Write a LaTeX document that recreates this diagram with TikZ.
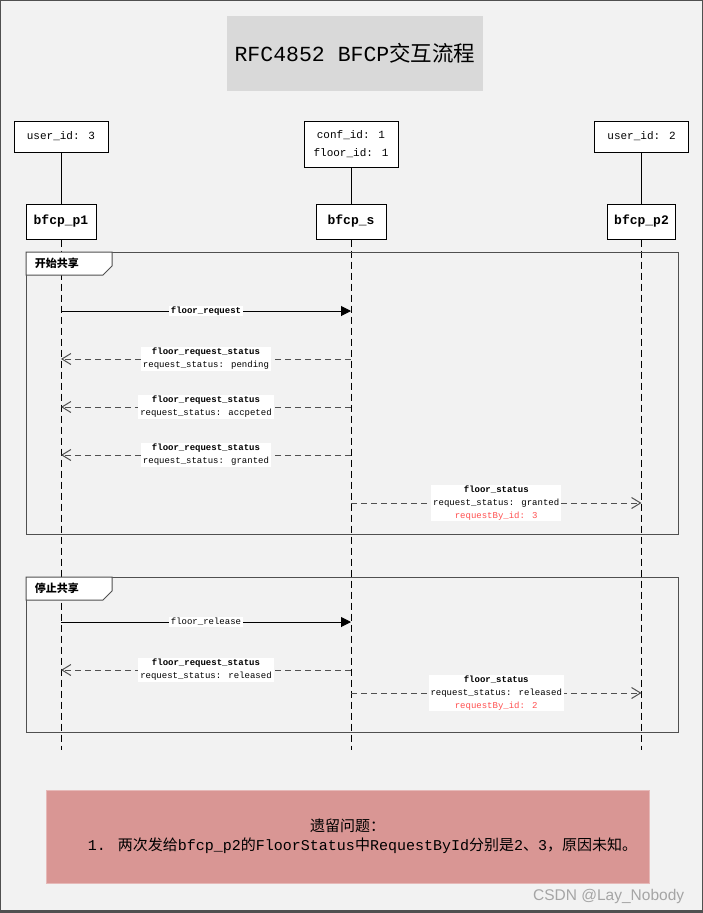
\documentclass[tikz,border=0pt]{standalone}
\usepackage{fontspec}
\setmainfont{Liberation Mono}
\newfontfamily\cjk{Noto Sans CJK SC}
\newfontfamily\wmfont{Liberation Sans}
\usetikzlibrary{arrows.meta, positioning}
\definecolor{bggray}{RGB}{242,242,242}
\definecolor{titlegray}{RGB}{217,217,217}
\definecolor{framegray}{RGB}{80,80,80}
\definecolor{idred}{RGB}{255,80,80}
\definecolor{notered}{RGB}{217,150,148}
\definecolor{noteedge}{RGB}{230,185,184}
\definecolor{wmgray}{RGB}{165,165,165}
\begin{document}
\begin{tikzpicture}[x=1pt, y=-1pt, line width=1pt,
  idbox/.style={draw, fill=white, align=center, inner sep=2pt, font=\fontsize{11}{18}\selectfont, minimum width=94pt, minimum height=31pt},
  actor/.style={draw, fill=white, inner sep=2pt, font=\bfseries\fontsize{13}{15}\selectfont, minimum width=70pt, minimum height=35pt},
  life/.style={dash pattern=on 7pt off 4pt},
  frame/.style={draw=framegray},
  call/.style={-{Triangle[length=10pt,width=10pt]}},
  reply/.style={draw=framegray, dash pattern=on 6pt off 4pt, -{Straight Barb[length=9pt,width=11pt]}},
  msg/.style={fill=white, align=center, inner xsep=2pt, inner ysep=1pt, font=\fontsize{9}{13}\selectfont},
  tab/.style={anchor=west, font=\cjk\bfseries\fontsize{11}{13}\selectfont}]
\useasboundingbox (0,0) rectangle (703,913);
\fill[bggray] (0,0) rectangle (703,913);
\draw[framegray] (0.5,0.5) rectangle (702.5,911);
\draw[framegray, line width=3pt] (0,911.5) -- (703,911.5);

\node[fill=titlegray, minimum width=256pt, minimum height=75pt, font=\fontsize{21.5}{25}\selectfont] (title) at (355,53.5) {RFC4852 BFCP{\cjk 交互流程}};

\node[idbox] (u1) at (61,136.5) {user\_id: 3};
\node[idbox, minimum height=46pt] (c) at (351,144) {conf\_id: 1\\floor\_id: 1};
\node[idbox] (u2) at (641.5,136.5) {user\_id: 2};
\node[actor] (p1) at (61,221.5) {bfcp\_p1};
\node[actor] (s) at (351,221.5) {bfcp\_s};
\node[actor, minimum width=68pt] (p2) at (641.5,221.5) {bfcp\_p2};
\coordinate (e1) at (p1 |- 0,750);
\coordinate (es) at (s |- 0,750);
\coordinate (e2) at (p2 |- 0,750);
\draw (u1) -- (p1);
\draw (c) -- (s);
\draw (u2) -- (p2);
\draw[life] (p1) -- (e1);
\draw[life] (s) -- (es);
\draw[life] (p2) -- (e2);

\draw[frame] (26,252) rectangle (678,534);
\draw[frame, fill=white] (26,252) -- (112,252) -- (112,266) -- (103,275) -- (26,275) -- cycle;
\node[tab] (f1) at (31,263.5) {开始共享};
\draw[frame] (26,577) rectangle (678,732);
\draw[frame, fill=white] (26,577) -- (112,577) -- (112,591) -- (103,600) -- (26,600) -- cycle;
\node[tab] (f2) at (31,588.5) {停止共享};

\draw[call] (p1 |- 0,311) -- node[msg, font=\bfseries\fontsize{9}{13}\selectfont] (m1) {floor\_request} (s |- 0,311);
\draw[reply] (s |- 0,359) -- node[msg] (m2) {\textbf{floor\_request\_status}\\request\_status: pending} (p1 |- 0,359);
\draw[reply] (s |- 0,407) -- node[msg] (m3) {\textbf{floor\_request\_status}\\request\_status: accpeted} (p1 |- 0,407);
\draw[reply] (s |- 0,455) -- node[msg] (m4) {\textbf{floor\_request\_status}\\request\_status: granted} (p1 |- 0,455);
\draw[reply] (s |- 0,503) -- node[msg] (m5) {\textbf{floor\_status}\\request\_status: granted\\\textcolor{idred}{requestBy\_id: 3}} (p2 |- 0,503);

\draw[call] (p1 |- 0,622) -- node[msg] (m6) {floor\_release} (s |- 0,622);
\draw[reply] (s |- 0,670) -- node[msg] (m7) {\textbf{floor\_request\_status}\\request\_status: released} (p1 |- 0,670);
\draw[reply] (s |- 0,693) -- node[msg] (m8) {\textbf{floor\_status}\\request\_status: released\\\textcolor{idred}{requestBy\_id: 2}} (p2 |- 0,693);

\node[fill=notered, draw=noteedge, minimum width=603pt, minimum height=93pt, align=center, font=\fontsize{15}{19}\selectfont] (note) at (347.5,836.5) {{\cjk 遗留问题：}\\\hspace*{30pt}1. {\cjk 两次发给}bfcp\_p2{\cjk 的}FloorStatus{\cjk 中}RequestById{\cjk 分别是}2{\cjk 、}3{\cjk ，原因未知。}};
\node[anchor=east, text=wmgray, font=\wmfont\fontsize{15.5}{18}\selectfont] (wm) at (688,896) {CSDN @Lay\_Nobody};
\end{tikzpicture}
\end{document}
